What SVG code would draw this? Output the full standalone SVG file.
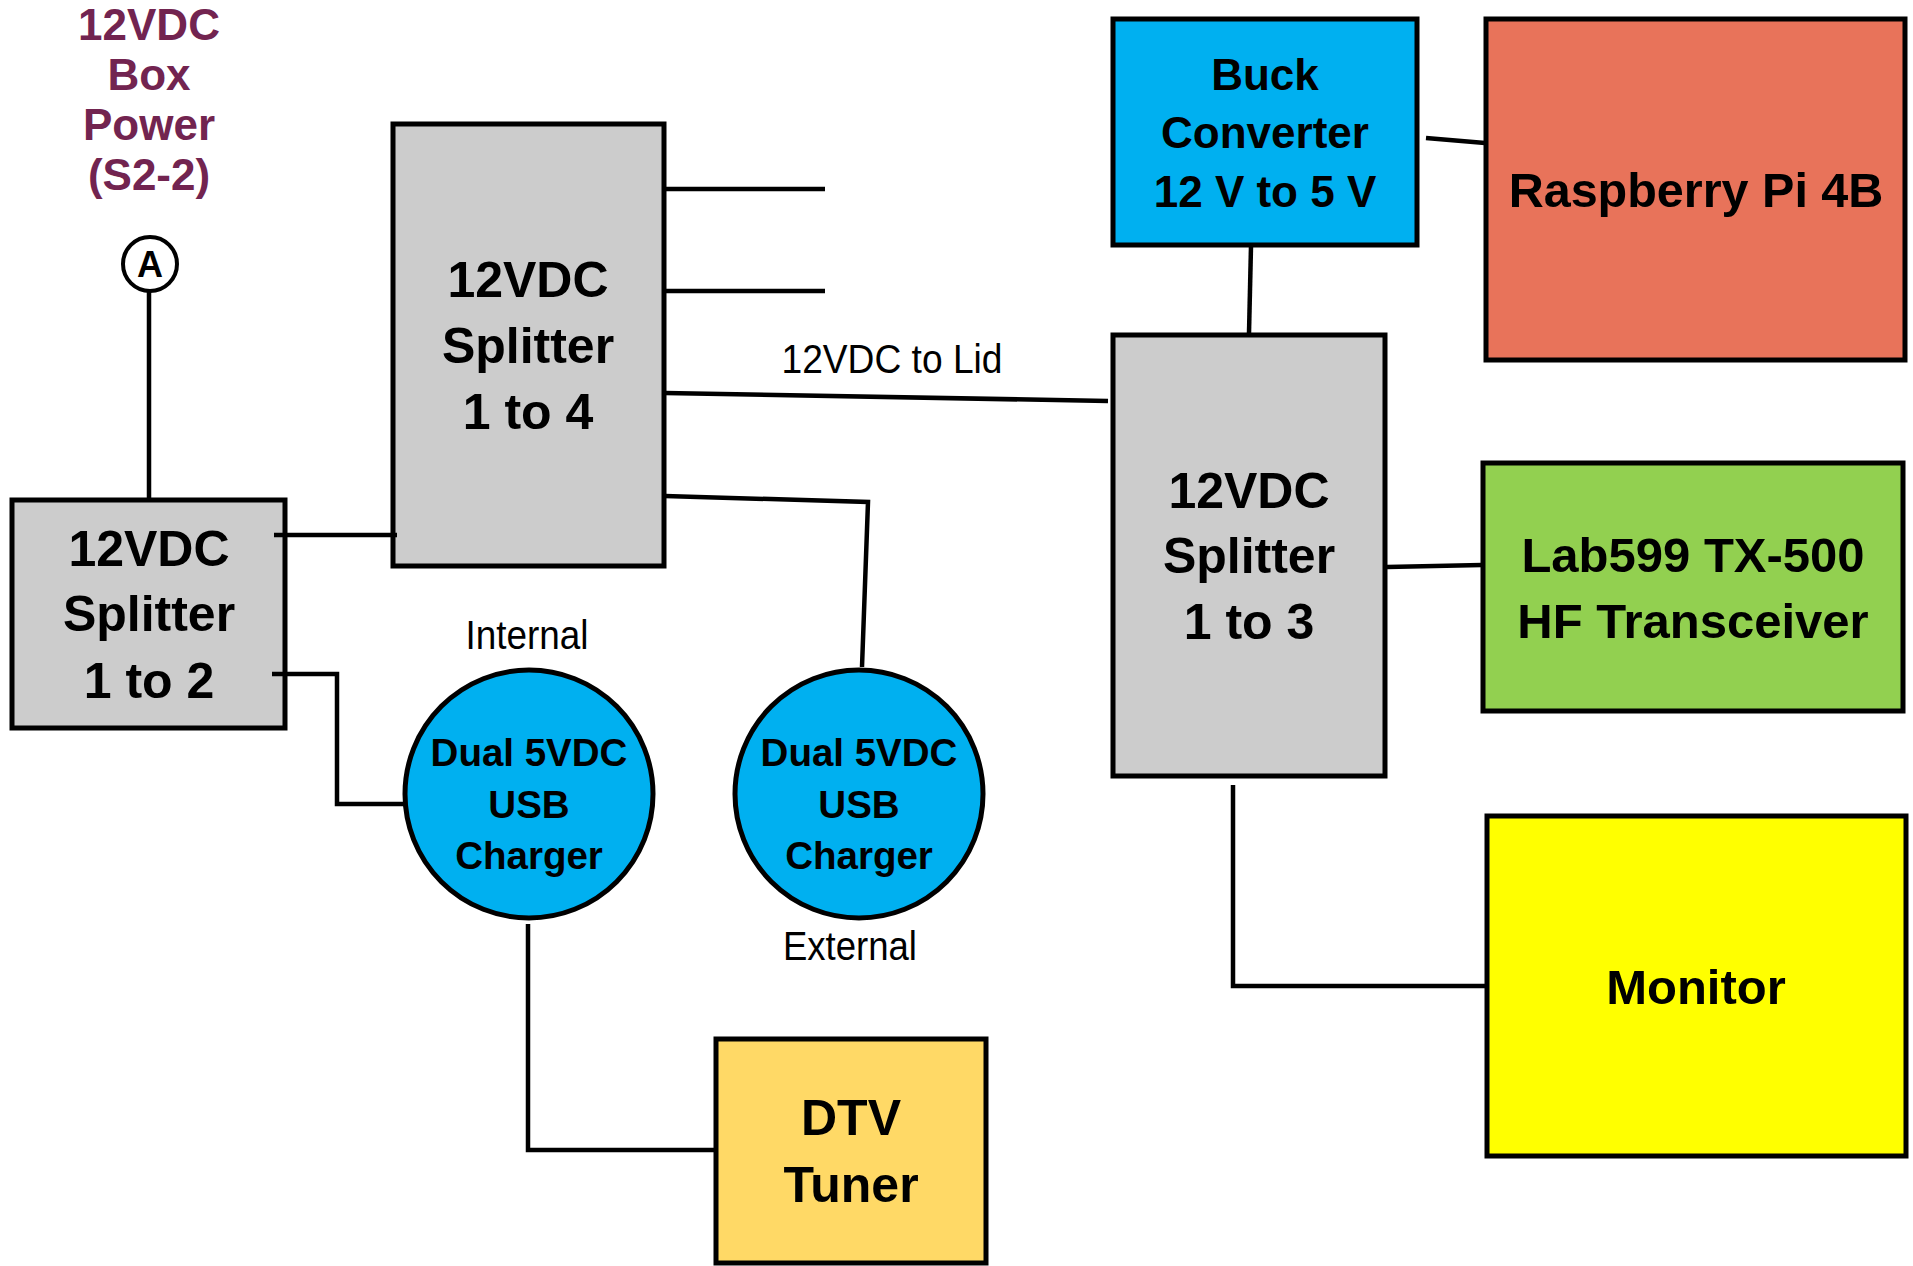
<svg xmlns="http://www.w3.org/2000/svg" width="1913" height="1266" viewBox="0 0 1913 1266">
<style>
.box{stroke:#000;stroke-width:5}
.gray{fill:#cccccc}
.blue{fill:#00b0f0}
.t{font-family:"Liberation Sans",Arial,sans-serif;font-weight:bold;fill:#000;text-anchor:middle}
.lbl{font-family:"Liberation Sans",Arial,sans-serif;font-size:40px;fill:#000;text-anchor:middle}
.conn{fill:none;stroke:#000;stroke-width:4.5}
</style>
<rect width="1913" height="1266" fill="#ffffff"/>
<g id="power-label">
<text class="t" style="fill:#722450" font-size="44"><tspan x="149" y="40">12VDC</tspan><tspan x="149" y="90">Box</tspan><tspan x="149" y="140">Power</tspan><tspan x="149" y="190">(S2-2)</tspan></text>
</g>
<g id="connector-A">
<circle cx="150" cy="264" r="27" fill="#fff" stroke="#000" stroke-width="4"/>
<text class="t" x="150" y="277" font-size="36">A</text>
</g>
<g id="splitter-1to2">
<rect class="box gray" x="12" y="500" width="273" height="228"/>
<text class="t" font-size="50"><tspan x="149" y="566">12VDC</tspan><tspan x="149" y="631">Splitter</tspan><tspan x="149" y="698">1 to 2</tspan></text>
</g>
<g id="splitter-1to4">
<rect class="box gray" x="393" y="124" width="271" height="442"/>
<text class="t" font-size="50"><tspan x="528" y="297">12VDC</tspan><tspan x="528" y="363">Splitter</tspan><tspan x="528" y="429">1 to 4</tspan></text>
</g>
<g id="lid-label">
<text class="lbl" x="892" y="373" font-size="42" textLength="221" lengthAdjust="spacingAndGlyphs">12VDC to Lid</text>
</g>
<g id="charger-internal">
<text class="lbl" x="527" y="649" textLength="123" lengthAdjust="spacingAndGlyphs">Internal</text>
<circle class="box blue" cx="529" cy="794" r="124"/>
<text class="t" font-size="38.5"><tspan x="529" y="766">Dual 5VDC</tspan><tspan x="529" y="818">USB</tspan><tspan x="529" y="869">Charger</tspan></text>
</g>
<g id="charger-external">
<circle class="box blue" cx="859" cy="794" r="124"/>
<text class="t" font-size="38.5"><tspan x="859" y="766">Dual 5VDC</tspan><tspan x="859" y="818">USB</tspan><tspan x="859" y="869">Charger</tspan></text>
<text class="lbl" x="850" y="960" textLength="134" lengthAdjust="spacingAndGlyphs">External</text>
</g>
<g id="dtv-tuner">
<rect class="box" fill="#ffd966" x="716" y="1039" width="270" height="224"/>
<text class="t" font-size="50"><tspan x="851" y="1135">DTV</tspan><tspan x="851" y="1202">Tuner</tspan></text>
</g>
<g id="buck-converter">
<rect class="box blue" x="1113" y="19" width="304" height="226"/>
<text class="t" font-size="44"><tspan x="1265" y="90">Buck</tspan><tspan x="1265" y="148">Converter</tspan><tspan x="1265" y="207">12 V to 5 V</tspan></text>
</g>
<g id="raspberry-pi">
<rect class="box" fill="#e8735a" x="1486" y="19" width="419" height="341"/>
<text class="t" x="1696" y="207" font-size="48.5">Raspberry Pi 4B</text>
</g>
<g id="splitter-1to3">
<rect class="box gray" x="1113" y="335" width="272" height="441"/>
<text class="t" font-size="50"><tspan x="1249" y="508">12VDC</tspan><tspan x="1249" y="573">Splitter</tspan><tspan x="1249" y="639">1 to 3</tspan></text>
</g>
<g id="lab599">
<rect class="box" fill="#92d050" x="1483" y="463" width="420" height="248"/>
<text class="t" font-size="49"><tspan x="1693" y="572">Lab599 TX-500</tspan><tspan x="1693" y="638">HF Transceiver</tspan></text>
</g>
<g id="monitor">
<rect class="box" fill="#ffff00" x="1487" y="816" width="419" height="340"/>
<text class="t" x="1696" y="1004" font-size="49">Monitor</text>
</g>
<g id="connectors">
<line class="conn" x1="149" y1="292" x2="149" y2="499"/>
<line class="conn" x1="274" y1="535" x2="397" y2="535"/>
<polyline class="conn" points="272,674 337,674 337,804 404,804"/>
<line class="conn" x1="665" y1="189" x2="825" y2="189"/>
<line class="conn" x1="665" y1="291" x2="825" y2="291"/>
<line class="conn" x1="665" y1="393" x2="1108" y2="401"/>
<polyline class="conn" points="665,496 868,502 862,667"/>
<line class="conn" x1="1426" y1="138" x2="1485" y2="143"/>
<line class="conn" x1="1251" y1="246" x2="1249" y2="333"/>
<line class="conn" x1="1387" y1="567" x2="1482" y2="565"/>
<polyline class="conn" points="1233,785 1233,986 1486,986"/>
<polyline class="conn" points="528,924 528,1150 716,1150"/>
</g>
</svg>
